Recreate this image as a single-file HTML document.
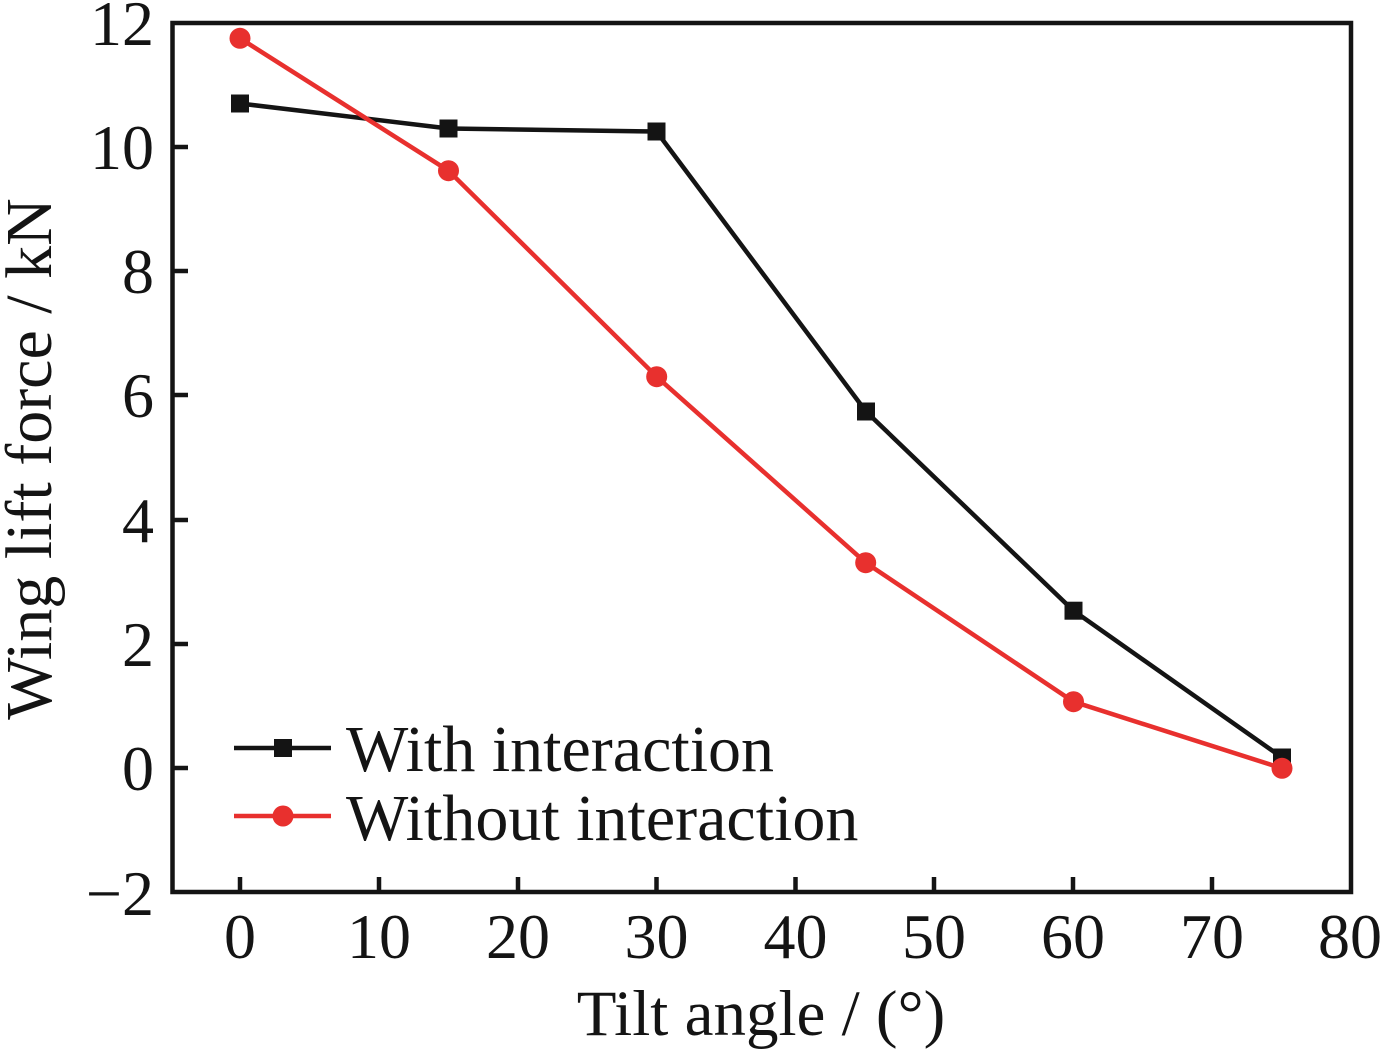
<!DOCTYPE html>
<html>
<head>
<meta charset="utf-8">
<style>
html,body{margin:0;padding:0;background:#fff;}
svg{display:block;}
text{font-family:"Liberation Serif","Times New Roman",serif;fill:#141414;}
</style>
</head>
<body>
<svg width="1382" height="1052" viewBox="0 0 1382 1052" xmlns="http://www.w3.org/2000/svg">
  <rect width="1382" height="1052" fill="#fff"/>
  <!-- ticks -->
  <g stroke="#141414" stroke-width="4.5">
    <line x1="240" y1="892" x2="240" y2="877"/>
    <line x1="379" y1="892" x2="379" y2="877"/>
    <line x1="518" y1="892" x2="518" y2="877"/>
    <line x1="656.5" y1="892" x2="656.5" y2="877"/>
    <line x1="795.5" y1="892" x2="795.5" y2="877"/>
    <line x1="934" y1="892" x2="934" y2="877"/>
    <line x1="1073" y1="892" x2="1073" y2="877"/>
    <line x1="1212" y1="892" x2="1212" y2="877"/>
    <line x1="172" y1="147" x2="188" y2="147"/>
    <line x1="172" y1="271" x2="188" y2="271"/>
    <line x1="172" y1="395" x2="188" y2="395"/>
    <line x1="172" y1="520" x2="188" y2="520"/>
    <line x1="172" y1="644" x2="188" y2="644"/>
    <line x1="172" y1="768" x2="188" y2="768"/>
  </g>
  <!-- axes box -->
  <rect x="172.5" y="23" width="1178.5" height="869" fill="none" stroke="#141414" stroke-width="4.5"/>

  <!-- black series -->
  <polyline points="240,103.5 448.5,128.5 656.5,131.5 866,411.5 1073.5,610.7 1282,757.5" fill="none" stroke="#141414" stroke-width="4.5" stroke-linejoin="round"/>
  <g fill="#141414">
    <rect x="231" y="94.5" width="18" height="18"/>
    <rect x="439.5" y="119.5" width="18" height="18"/>
    <rect x="647.5" y="122.5" width="18" height="18"/>
    <rect x="857" y="402.5" width="18" height="18"/>
    <rect x="1064.5" y="601.7" width="18" height="18"/>
    <rect x="1273" y="748.5" width="18" height="18"/>
  </g>

  <!-- red series -->
  <polyline points="240,38.3 448.5,170.7 656.7,376.7 865.7,562.7 1073.5,701.7 1282,768.3" fill="none" stroke="#e8302e" stroke-width="4.5" stroke-linejoin="round"/>
  <g fill="#e8302e">
    <circle cx="240" cy="38.3" r="10.5"/>
    <circle cx="448.5" cy="170.7" r="10.5"/>
    <circle cx="656.7" cy="376.7" r="10.5"/>
    <circle cx="865.7" cy="562.7" r="10.5"/>
    <circle cx="1073.5" cy="701.7" r="10.5"/>
    <circle cx="1282" cy="768.3" r="10.5"/>
  </g>

  <!-- legend -->
  <line x1="234" y1="748" x2="331" y2="748" stroke="#141414" stroke-width="4.5"/>
  <rect x="274" y="739" width="18" height="18" fill="#141414"/>
  <line x1="234" y1="816" x2="331" y2="816" stroke="#e8302e" stroke-width="4.5"/>
  <circle cx="283" cy="816" r="10.5" fill="#e8302e"/>
  <text x="346" y="771" font-size="66">With interaction</text>
  <text x="346" y="840" font-size="66">Without interaction</text>

  <!-- x tick labels -->
  <g font-size="64" text-anchor="middle">
    <text x="240" y="958">0</text>
    <text x="379" y="958">10</text>
    <text x="518" y="958">20</text>
    <text x="656.5" y="958">30</text>
    <text x="795.5" y="958">40</text>
    <text x="934" y="958">50</text>
    <text x="1073" y="958">60</text>
    <text x="1212" y="958">70</text>
    <text x="1350" y="958">80</text>
  </g>
  <!-- y tick labels -->
  <g font-size="64" text-anchor="end">
    <text x="154" y="45">12</text>
    <text x="154" y="169">10</text>
    <text x="154" y="293">8</text>
    <text x="154" y="417">6</text>
    <text x="154" y="542">4</text>
    <text x="154" y="666">2</text>
    <text x="154" y="790">0</text>
    <text x="154" y="915">−2</text>
  </g>

  <!-- axis titles -->
  <text x="761" y="1035" font-size="65" text-anchor="middle">Tilt angle / (°)</text>
  <text transform="translate(51,459) rotate(-90)" font-size="66" text-anchor="middle">Wing lift force / kN</text>
</svg>
</body>
</html>
